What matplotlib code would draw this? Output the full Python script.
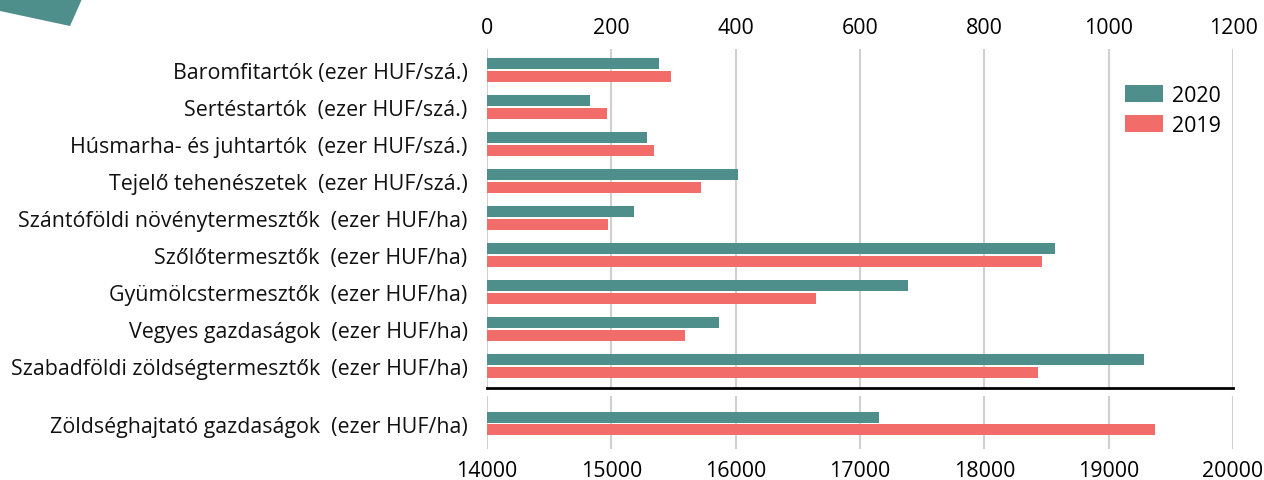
import matplotlib.pyplot as plt
from matplotlib.patches import Polygon
import numpy as np

# categories (top panel: 0-1200 scale)
categories = [
    "Baromfitartók (ezer HUF/szá.)",
    "Sertéstartók  (ezer HUF/szá.)",
    "Húsmarha- és juhtartók  (ezer HUF/szá.)",
    "Tejelő tehenészetek  (ezer HUF/szá.)",
    "Szántóföldi növénytermesztők  (ezer HUF/ha)",
    "Szőlőtermesztők  (ezer HUF/ha)",
    "Gyümölcstermesztők  (ezer HUF/ha)",
    "Vegyes gazdaságok  (ezer HUF/ha)",
    "Szabadföldi zöldségtermesztők  (ezer HUF/ha)",
]
values_2020 = [277, 165, 257, 404, 237, 914, 677, 373, 1057]
values_2019 = [296, 193, 268, 344, 194, 893, 530, 319, 886]

# bottom panel: 14000-20000 scale
bottom_category = ["Zöldséghajtató gazdaságok  (ezer HUF/ha)"]
bottom_2020 = [17150]
bottom_2019 = [19375]

top_ticks = [0, 200, 400, 600, 800, 1000, 1200]
bottom_ticks = [14000, 15000, 16000, 17000, 18000, 19000, 20000]

teal = "#4e8f8c"
salmon = "#f26d6a"
grid_col = "#d0d0d0"
font = ["Open Sans", "DejaVu Sans"]
fs = 15.4

W, H = 1264, 481
fig = plt.figure(figsize=(W / 100, H / 100), dpi=100)

def ax_rect(x0, y0, x1, y1):
    return [x0 / W, 1 - y1 / H, (x1 - x0) / W, (y1 - y0) / H]

# corner decoration
fig.patches.append(Polygon([(0, 1), (82 / W, 1), (70 / W, 1 - 27 / H), (0, 1 - 12 / H)],
                           closed=True, transform=fig.transFigure, facecolor=teal,
                           edgecolor="none"))

bh = 0.29
off = 0.168
step = 37.0

# top panel
ax = fig.add_axes(ax_rect(487, 50, 1233, 389))
y = np.arange(len(categories))
ax.barh(y - off, values_2020, height=bh, color=teal, label="2020", zorder=3)
ax.barh(y + off, values_2019, height=bh, color=salmon, label="2019", zorder=3)
ax.set_xlim(0, 1200)
ax.set_ylim((389 - 71) / step, (50 - 71) / step)
ax.set_xticks(top_ticks)
ax.xaxis.tick_top()
ax.set_yticks(y)
ax.set_yticklabels(categories, fontsize=fs, family=font, color="#111111")
ax.tick_params(axis="y", length=0, pad=14)
ax.tick_params(axis="x", length=0, pad=8, labelsize=fs)
for lab in ax.get_xticklabels():
    lab.set_family(font)
ax.grid(axis="x", color=grid_col, linewidth=1.5, zorder=0)
for s in ["top", "left", "right"]:
    ax.spines[s].set_visible(False)
ax.spines["bottom"].set_color("black")
ax.spines["bottom"].set_linewidth(2)

leg = ax.legend(loc="upper left", bbox_to_anchor=(1125 / W, 1 - 86 / H),
                bbox_transform=fig.transFigure, frameon=False,
                borderpad=0, borderaxespad=0,
                handlelength=1.77, handleheight=0.88, labelspacing=0.4,
                handletextpad=0.45, prop={"family": font, "size": fs})

# bottom panel
ax2 = fig.add_axes(ax_rect(487, 397, 1233, 450))
ax2.barh([0 - off], bottom_2020, height=bh, color=teal, zorder=3)
ax2.barh([0 + off], bottom_2019, height=bh, color=salmon, zorder=3)
ax2.set_xlim(14000, 20000)
ax2.set_ylim((450 - 424.5) / step, (397 - 424.5) / step)
ax2.set_xticks(bottom_ticks)
ax2.set_yticks([0])
ax2.set_yticklabels(bottom_category, fontsize=fs, family=font, color="#111111")
ax2.tick_params(axis="y", length=0, pad=14)
ax2.tick_params(axis="x", length=0, pad=8, labelsize=fs)
for lab in ax2.get_xticklabels():
    lab.set_family(font)
ax2.grid(axis="x", color=grid_col, linewidth=1.5, zorder=0)
for s in ax2.spines.values():
    s.set_visible(False)

fig.savefig("out.png", dpi=100)
